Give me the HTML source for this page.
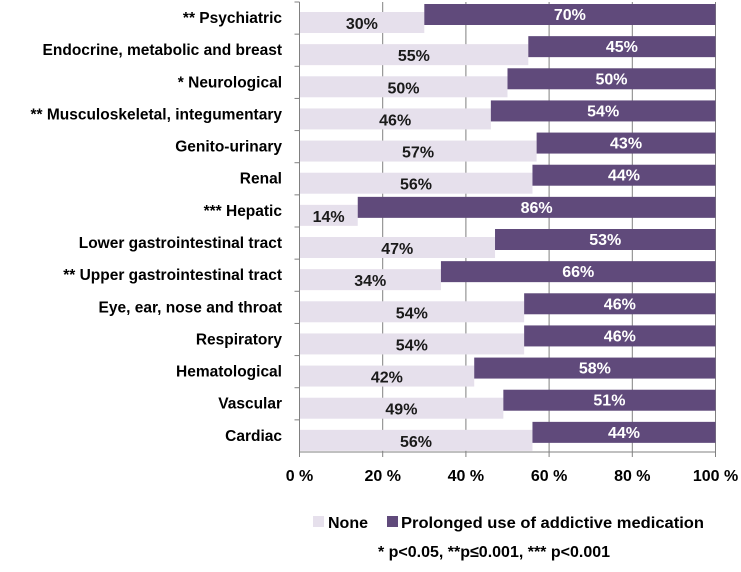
<!DOCTYPE html>
<html><head><meta charset="utf-8"><style>
body{margin:0;background:#fff}
svg text{font-family:"Liberation Sans",sans-serif;font-weight:bold}
</style></head><body>
<svg id="c" width="741" height="567"></svg>
<script>
const categories=["** Psychiatric","Endocrine, metabolic and breast","* Neurological","** Musculoskeletal, integumentary","Genito-urinary","Renal","*** Hepatic","Lower gastrointestinal tract","** Upper gastrointestinal tract","Eye, ear, nose and throat","Respiratory","Hematological","Vascular","Cardiac"];
const noneValues=[30,55,50,46,57,56,14,47,34,54,54,42,49,56];
const prolongedValues=[70,45,50,54,43,44,86,53,66,46,46,58,51,44];
const tickLabels=["0 %","20 %","40 %","60 %","80 %","100 %"];
const tickValues=[0,20,40,60,80,100];
const NS="http://www.w3.org/2000/svg";
const svg=document.getElementById('c');
const x0=299.5,x1=715.5,yTop=2,yBot=452;
const band=(yBot-yTop)/categories.length;
const xs=v=>x0+(x1-x0)*v/100;
function mk(t,a,p){const e=document.createElementNS(NS,t);for(const k in a)e.setAttribute(k,a[k]);(p||svg).appendChild(e);return e;}
tickValues.forEach((v,i)=>{
  if(v>0){const g=mk('line',{x1:xs(v),x2:xs(v),y1:yTop,y2:yBot,stroke:'#808080','stroke-width':1});
  
  }
  const tk=mk('line',{x1:xs(v),x2:xs(v),y1:yBot,y2:yBot+5,stroke:'#808080'});
  
  
  const t=mk('text',{x:xs(v),y:481,'text-anchor':'middle','font-size':16,fill:'#000'});
  t.textContent=tickLabels[i];
  
  
});
categories.forEach((c,i)=>{
  const y=yTop+band*i;
  const tk=mk('line',{x1:x0-5,x2:x0,y1:y,y2:y,stroke:'#808080'});
  
  
  const l=mk('rect',{x:x0,y:y+10,width:xs(noneValues[i])-x0,height:21,fill:'#e6e0ec'});
  
  
  const d=mk('rect',{x:xs(noneValues[i]),y:y+2,width:xs(noneValues[i]+prolongedValues[i])-xs(noneValues[i]),height:21,fill:'#604a7b'});
  
  
  const lt=mk('text',{x:(x0+xs(noneValues[i]))/2,y:y+27,'text-anchor':'middle','font-size':16,fill:'#1a1a1a'});
  lt.textContent=noneValues[i]+'%';
  
  
  const dt=mk('text',{x:(xs(noneValues[i])+xs(noneValues[i]+prolongedValues[i]))/2,y:y+18,'text-anchor':'middle','font-size':16,fill:'#fff'});
  dt.textContent=prolongedValues[i]+'%';
  
  
  const ct=mk('text',{x:282,y:y+21,'text-anchor':'end','font-size':15.5,fill:'#000'});
  ct.textContent=c;
  
  
});
const ax=mk('line',{x1:x0,x2:x1,y1:yBot,y2:yBot,stroke:'#808080'});


const ay=mk('line',{x1:x0,x2:x0,y1:yTop,y2:yBot,stroke:'#808080'});


const lg=mk('g',{});


const s1=mk('rect',{x:313,y:516,width:11,height:11,fill:'#e6e0ec'},lg);


const t1=mk('text',{x:328,y:528,'font-size':16},lg);t1.textContent='None';


const s2=mk('rect',{x:387,y:516,width:11,height:11,fill:'#604a7b'},lg);


const t2=mk('text',{x:401,y:528,'font-size':16,textLength:303,lengthAdjust:'spacingAndGlyphs'},lg);t2.textContent='Prolonged use of addictive medication';


const fn=mk('text',{x:494,y:557,'text-anchor':'middle','font-size':16});
fn.textContent='* p<0.05, **p≤0.001, *** p<0.001';


</script>
</body></html>
